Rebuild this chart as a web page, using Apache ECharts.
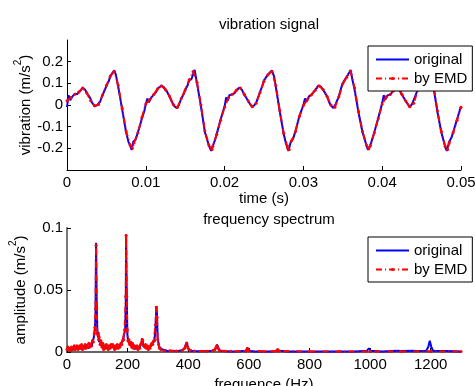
<!DOCTYPE html>
<html><head><meta charset="utf-8">
<script src="https://cdn.jsdelivr.net/npm/echarts@6/dist/echarts.min.js"></script>
<style>html,body{margin:0;padding:0;background:#fff}#c{width:475px;height:386px}</style>
</head><body><div id="c"></div>
<script>
// vibration signal: [time (s), value (m/s^2)]
const sigOriginal = [[0,-0.01],[0.0002,0.045],[0.0004,0.022],[0.0007,0.04],[0.001,0.052],[0.0013,0.05],[0.0016,0.062],[0.002,0.08],[0.0023,0.07],[0.0026,0.05],[0.0029,0.035],[0.0032,0.01],[0.0035,-0.006],[0.0038,-0.002],[0.004,0.0],[0.0042,0.015],[0.0045,0.045],[0.0048,0.07],[0.005,0.088],[0.0053,0.11],[0.0055,0.135],[0.0057,0.13],[0.006,0.16],[0.0062,0.14],[0.0065,0.084],[0.007,-0.02],[0.0075,-0.126],[0.0078,-0.17],[0.008,-0.185],[0.0082,-0.208],[0.0084,-0.17],[0.0087,-0.16],[0.009,-0.126],[0.0093,-0.09],[0.0095,-0.062],[0.0098,-0.03],[0.01,0.005],[0.0102,0.03],[0.0104,0.012],[0.0107,0.035],[0.011,0.047],[0.0113,0.06],[0.0116,0.078],[0.012,0.09],[0.0123,0.082],[0.0126,0.068],[0.013,0.04],[0.0133,0.015],[0.0136,-0.005],[0.0139,-0.014],[0.0142,0.0],[0.0145,0.03],[0.0148,0.05],[0.015,0.07],[0.0153,0.09],[0.0155,0.114],[0.0158,0.12],[0.0162,0.162],[0.0165,0.1],[0.017,-0.006],[0.0175,-0.126],[0.018,-0.186],[0.0183,-0.212],[0.0186,-0.18],[0.0188,-0.16],[0.019,-0.134],[0.0195,-0.066],[0.0198,-0.03],[0.02,-0.006],[0.0202,0.035],[0.0204,0.02],[0.0206,0.045],[0.021,0.05],[0.0213,0.055],[0.0216,0.072],[0.0219,0.08],[0.0222,0.07],[0.0225,0.047],[0.0228,0.03],[0.023,0.017],[0.0233,0.0],[0.0235,-0.01],[0.0238,0.0],[0.024,0.01],[0.0243,0.04],[0.0245,0.06],[0.0248,0.09],[0.025,0.114],[0.0253,0.13],[0.0256,0.145],[0.026,0.16],[0.0263,0.13],[0.0265,0.084],[0.027,-0.03],[0.0275,-0.134],[0.0278,-0.18],[0.0281,-0.212],[0.0284,-0.17],[0.0287,-0.155],[0.029,-0.12],[0.0295,-0.05],[0.0298,-0.02],[0.03,0.0],[0.0302,0.03],[0.0304,0.015],[0.0307,0.04],[0.031,0.047],[0.0315,0.07],[0.0319,0.09],[0.0322,0.085],[0.0325,0.07],[0.033,0.04],[0.0333,0.01],[0.0335,-0.003],[0.0338,-0.014],[0.0341,0.005],[0.0345,0.04],[0.0348,0.08],[0.035,0.1],[0.0353,0.12],[0.0355,0.13],[0.0357,0.125],[0.036,0.162],[0.0362,0.12],[0.0365,0.07],[0.037,-0.036],[0.0375,-0.126],[0.038,-0.186],[0.0382,-0.207],[0.0385,-0.186],[0.039,-0.126],[0.0395,-0.06],[0.0398,-0.02],[0.04,0.01],[0.0402,0.045],[0.0404,0.025],[0.0407,0.045],[0.041,0.047],[0.0415,0.07],[0.042,0.084],[0.0425,0.047],[0.043,0.017],[0.0433,0.0],[0.0435,-0.01],[0.0438,0.005],[0.044,0.01],[0.0445,0.07],[0.045,0.114],[0.0455,0.144],[0.046,0.16],[0.0465,0.084],[0.047,-0.03],[0.0475,-0.126],[0.048,-0.194],[0.0482,-0.212],[0.0485,-0.17],[0.0488,-0.15],[0.049,-0.126],[0.0495,-0.066],[0.05,-0.006]];
const sigEmd = [[0,0.02],[0.0005,0.035],[0.001,0.05],[0.0015,0.06],[0.002,0.078],[0.0025,0.056],[0.003,0.02],[0.0035,-0.004],[0.004,0.002],[0.0045,0.046],[0.005,0.09],[0.0055,0.133],[0.006,0.155],[0.0065,0.09],[0.007,-0.015],[0.0075,-0.12],[0.008,-0.185],[0.0083,-0.2],[0.0085,-0.175],[0.009,-0.128],[0.0095,-0.058],[0.01,0.005],[0.0105,0.025],[0.011,0.048],[0.0115,0.075],[0.012,0.088],[0.0125,0.07],[0.013,0.042],[0.0135,0.002],[0.014,-0.012],[0.0145,0.03],[0.015,0.07],[0.0155,0.115],[0.016,0.155],[0.0165,0.105],[0.017,0.0],[0.0175,-0.12],[0.018,-0.185],[0.0184,-0.205],[0.0185,-0.19],[0.019,-0.135],[0.0195,-0.07],[0.02,-0.01],[0.0205,0.035],[0.021,0.05],[0.0215,0.068],[0.022,0.078],[0.0225,0.05],[0.023,0.018],[0.0235,-0.008],[0.024,0.008],[0.0245,0.058],[0.025,0.11],[0.0255,0.14],[0.026,0.155],[0.0265,0.09],[0.027,-0.025],[0.0275,-0.13],[0.028,-0.198],[0.0282,-0.205],[0.0285,-0.165],[0.029,-0.122],[0.0295,-0.052],[0.03,-0.002],[0.0305,0.025],[0.031,0.046],[0.0315,0.068],[0.032,0.088],[0.0325,0.072],[0.033,0.04],[0.0335,0.0],[0.034,-0.01],[0.0345,0.038],[0.035,0.098],[0.0355,0.128],[0.036,0.155],[0.0365,0.078],[0.037,-0.03],[0.0375,-0.122],[0.038,-0.185],[0.0383,-0.202],[0.0385,-0.188],[0.039,-0.128],[0.0395,-0.062],[0.04,0.005],[0.0405,0.038],[0.041,0.048],[0.0415,0.068],[0.042,0.082],[0.0425,0.05],[0.043,0.018],[0.0435,-0.008],[0.044,0.008],[0.0445,0.068],[0.045,0.11],[0.0455,0.14],[0.046,0.155],[0.0465,0.09],[0.047,-0.025],[0.0475,-0.122],[0.048,-0.19],[0.0483,-0.205],[0.0485,-0.175],[0.049,-0.128],[0.0495,-0.07],[0.05,-0.01]];
// frequency spectrum: [frequency (Hz), amplitude]
const specOriginal = [[0,0.003],[3,0.002],[6,0.003],[9,0.001],[12,0.003],[15,0.002],[18,0.004],[21,0.002],[24,0.003],[27,0.001],[30,0.004],[33,0.002],[36,0.003],[39,0.004],[42,0.002],[45,0.005],[48,0.003],[51,0.004],[54,0.002],[57,0.005],[60,0.003],[63,0.005],[66,0.004],[69,0.006],[72,0.003],[75,0.005],[78,0.007],[81,0.004],[84,0.008],[87,0.01],[90,0.014],[92,0.018],[94,0.03],[96,0.088],[98,0.04],[100,0.018],[102,0.012],[104,0.016],[106,0.008],[109,0.01],[112,0.005],[115,0.008],[118,0.003],[121,0.006],[124,0.002],[127,0.005],[130,0.003],[133,0.002],[136,0.004],[139,0.003],[142,0.005],[145,0.004],[148,0.006],[151,0.005],[154,0.003],[157,0.005],[160,0.002],[163,0.004],[166,0.003],[169,0.005],[172,0.004],[175,0.006],[178,0.005],[181,0.008],[184,0.007],[187,0.012],[190,0.016],[192,0.019],[194,0.04],[195,0.095],[197,0.05],[199,0.015],[201,0.01],[204,0.008],[207,0.009],[210,0.005],[213,0.007],[216,0.003],[219,0.006],[222,0.004],[225,0.002],[228,0.005],[231,0.003],[234,0.004],[237,0.002],[240,0.004],[243,0.005],[246,0.008],[248,0.011],[250,0.008],[253,0.004],[256,0.006],[259,0.003],[262,0.005],[265,0.003],[268,0.004],[271,0.002],[274,0.004],[277,0.006],[280,0.005],[283,0.007],[286,0.008],[289,0.01],[292,0.02],[295,0.037],[297,0.03],[299,0.012],[302,0.007],[305,0.004],[310,0.003],[315,0.002],[320,0.001],[330,0.001],[340,0.0008],[350,0.001],[360,0.0007],[370,0.001],[380,0.0015],[388,0.003],[392,0.006],[395,0.008],[398,0.005],[402,0.002],[410,0.001],[420,0.0008],[440,0.0006],[460,0.0008],[480,0.001],[488,0.002],[492,0.004],[495,0.006],[498,0.004],[503,0.0015],[510,0.0008],[540,0.0005],[570,0.0006],[590,0.001],[595,0.003],[599,0.001],[620,0.0005],[650,0.0004],[680,0.0005],[690,0.001],[695,0.002],[700,0.001],[730,0.0004],[780,0.0005],[800,0.0004],[850,0.0004],[900,0.0005],[950,0.0004],[990,0.001],[996,0.003],[1002,0.001],[1040,0.0004],[1090,0.001],[1096,0.002],[1102,0.0008],[1140,0.001],[1146,0.002],[1152,0.0008],[1185,0.001],[1192,0.004],[1197,0.009],[1202,0.004],[1208,0.001],[1240,0.0008],[1246,0.002],[1252,0.0008],[1300,0.0005]];
const specEmd = [[0,0.002],[3,0.004],[6,0.002],[9,0.003],[12,0.001],[15,0.004],[18,0.002],[21,0.003],[24,0.005],[27,0.002],[30,0.003],[33,0.005],[36,0.002],[39,0.003],[42,0.005],[45,0.003],[48,0.006],[51,0.002],[54,0.004],[57,0.003],[60,0.006],[63,0.003],[66,0.005],[69,0.004],[72,0.007],[75,0.004],[78,0.006],[81,0.005],[84,0.009],[87,0.008],[90,0.015],[92,0.02],[94,0.035],[96,0.086],[98,0.035],[100,0.015],[102,0.014],[104,0.01],[106,0.012],[109,0.006],[112,0.009],[115,0.004],[118,0.007],[121,0.002],[124,0.005],[127,0.003],[130,0.006],[133,0.004],[136,0.002],[139,0.005],[142,0.003],[145,0.006],[148,0.004],[151,0.006],[154,0.004],[157,0.002],[160,0.005],[163,0.003],[166,0.006],[169,0.003],[172,0.005],[175,0.004],[178,0.007],[181,0.006],[184,0.009],[187,0.01],[190,0.018],[192,0.017],[194,0.045],[195,0.094],[197,0.045],[199,0.018],[201,0.009],[204,0.01],[207,0.006],[210,0.008],[213,0.004],[216,0.007],[219,0.003],[222,0.005],[225,0.004],[228,0.003],[231,0.005],[234,0.002],[237,0.004],[240,0.003],[243,0.006],[246,0.007],[248,0.01],[250,0.009],[253,0.005],[256,0.004],[259,0.006],[262,0.003],[265,0.005],[268,0.002],[271,0.004],[274,0.003],[277,0.005],[280,0.007],[283,0.006],[286,0.009],[289,0.009],[292,0.022],[295,0.036],[297,0.028],[299,0.01],[302,0.006],[305,0.003],[310,0.002],[320,0.001],[340,0.001],[360,0.0008],[380,0.0012],[388,0.003],[392,0.005],[395,0.007],[398,0.004],[402,0.002],[420,0.0008],[460,0.0007],[480,0.001],[488,0.002],[492,0.004],[495,0.005],[498,0.003],[503,0.0012],[540,0.0006],[590,0.0008],[595,0.003],[600,0.001],[650,0.0005],[690,0.0008],[695,0.002],[700,0.0008],[800,0.0004],[900,0.0004],[1000,0.0005],[1100,0.0004],[1200,0.0006],[1300,0.0004]];
const seriesNames = ['original', 'by EMD'];
const titles = ['vibration signal', 'frequency spectrum'];

const FONT = '"Liberation Sans", Arial, sans-serif';
const chart = echarts.init(document.getElementById('c'), null, {renderer: 'canvas'});
const supRich = {
  n: {fontSize: 15, fontFamily: FONT, color: '#000', lineHeight: 20, verticalAlign: 'bottom'},
  sup: {fontSize: 10, fontFamily: FONT, color: '#000', lineHeight: 20, verticalAlign: 'top', padding: [0, 0, 0, 0]}
};
const axisCommon = {
  axisLine: {show: true, onZero: false, lineStyle: {color: '#000', width: 1}},
  axisTick: {show: true, inside: true, length: 4, lineStyle: {color: '#000'}},
  splitLine: {show: false},
  nameMoveOverlap: false,
  axisLabel: {color: '#000', fontSize: 15, fontFamily: FONT, formatter: v => String(v)},
  nameTextStyle: {color: '#000', fontSize: 15, fontFamily: FONT, rich: supRich}
};
const legendCommon = {
  orient: 'vertical', backgroundColor: '#fff', borderColor: '#000', borderWidth: 1,
  padding: [6, 5, 5, 7], itemGap: 4, itemWidth: 33, itemHeight: 4,
  textStyle: {color: '#000', fontSize: 15, fontFamily: FONT, lineHeight: 15},
  data: [
    {name: seriesNames[0], itemStyle: {color: 'rgba(0,0,0,0)', borderWidth: 0}},
    {name: seriesNames[1]}
  ]
};
const blue = {type: 'line', symbol: 'none', lineStyle: {color: '#0000ff', width: 2}, itemStyle: {color: '#0000ff'}, z: 2};
const red = {type: 'line', symbol: 'circle', symbolSize: 3, showSymbol: true,
  lineStyle: {color: '#ff0000', width: 2, type: [6, 3, 1, 3]}, itemStyle: {color: '#ff0000'}, z: 3};

chart.setOption({
  animation: false,
  backgroundColor: '#fff',
  title: [
    {text: titles[0], left: 264, top: 12, textAlign: 'center', textStyle: {fontSize: 15, fontWeight: 'normal', color: '#000', fontFamily: FONT}},
    {text: titles[1], left: 264, top: 207, textAlign: 'center', textStyle: {fontSize: 15, fontWeight: 'normal', color: '#000', fontFamily: FONT}}
  ],
  grid: [
    {left: 67, right: 14, top: 40, height: 130, containLabel: false, outerBoundsMode: 'none'},
    {left: 67, right: 14, top: 228, height: 124, containLabel: false, outerBoundsMode: 'none'}
  ],
  xAxis: [
    Object.assign({}, axisCommon, {type: 'value', gridIndex: 0, min: 0, max: 0.05, interval: 0.01,
      name: 'time (s)', nameLocation: 'middle', nameGap: 21,
      axisLabel: Object.assign({}, axisCommon.axisLabel, {margin: 5})}),
    Object.assign({}, axisCommon, {type: 'value', gridIndex: 1, min: 0, max: 1300, interval: 200,
      name: 'frequence (Hz)', nameLocation: 'middle', nameGap: 25,
      axisLine: {show: true, onZero: false, lineStyle: {color: '#333', width: 1.5}},
      axisLabel: Object.assign({}, axisCommon.axisLabel, {margin: 5, showMaxLabel: false})})
  ],
  yAxis: [
    Object.assign({}, axisCommon, {type: 'value', gridIndex: 0, min: -0.3, max: 0.3, interval: 0.1,
      name: '{n|vibration (m/s}{sup|2}{n|)}', nameLocation: 'middle', nameGap: 34,
      axisLabel: Object.assign({}, axisCommon.axisLabel, {margin: 4, showMinLabel: false, showMaxLabel: false})}),
    Object.assign({}, axisCommon, {type: 'value', gridIndex: 1, min: 0, max: 0.1, interval: 0.05,
      name: '{n|amplitude (m/s}{sup|2}{n|)}', nameLocation: 'middle', nameGap: 39,
      axisLine: {show: true, onZero: false, lineStyle: {color: '#777', width: 2}},
      axisLabel: Object.assign({}, axisCommon.axisLabel, {margin: 4})})
  ],
  legend: [
    Object.assign({}, legendCommon, {left: 368, top: 46}),
    Object.assign({}, legendCommon, {left: 368, top: 237})
  ],
  series: [
    Object.assign({}, blue, {name: seriesNames[0], xAxisIndex: 0, yAxisIndex: 0, data: sigOriginal}),
    Object.assign({}, red, {name: seriesNames[1], xAxisIndex: 0, yAxisIndex: 0, data: sigEmd}),
    Object.assign({}, blue, {name: seriesNames[0], xAxisIndex: 1, yAxisIndex: 1, data: specOriginal}),
    Object.assign({}, red, {name: seriesNames[1], xAxisIndex: 1, yAxisIndex: 1, data: specEmd})
  ]
});
</script></body></html>
